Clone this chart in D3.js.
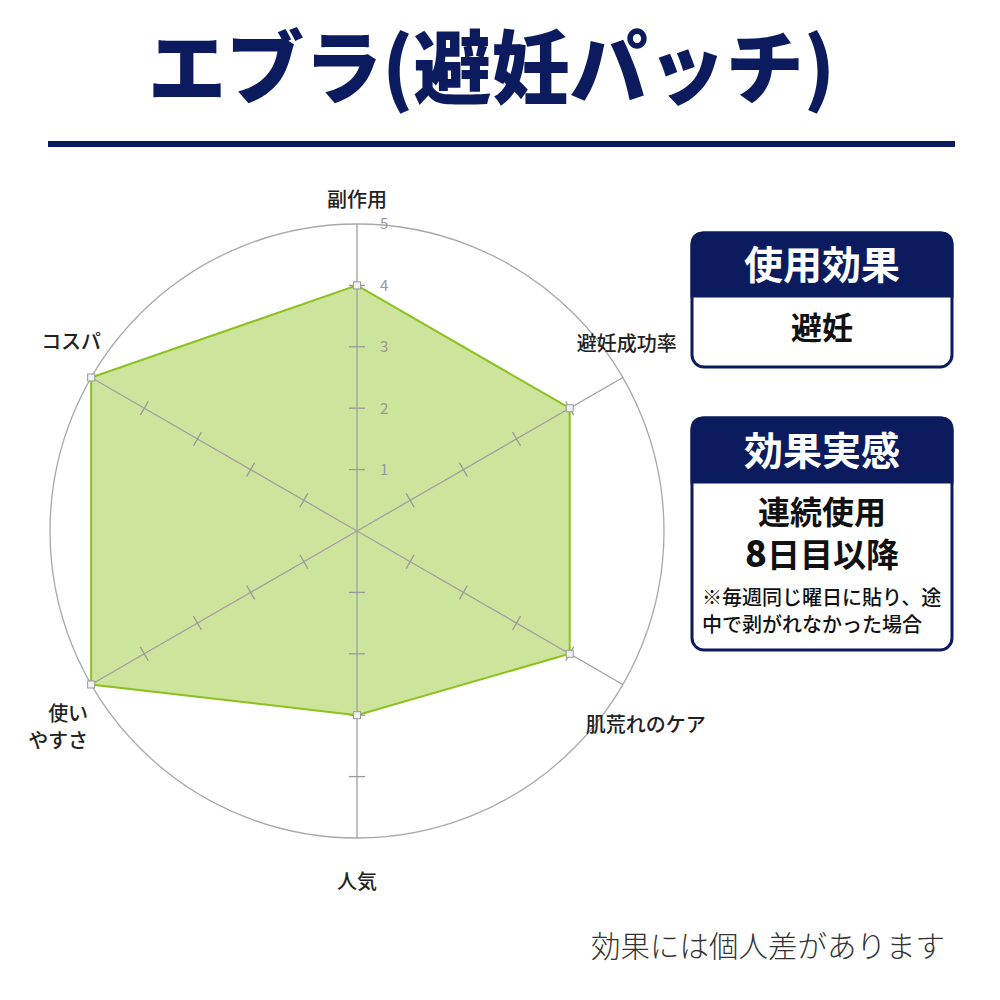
<!DOCTYPE html>
<html><head><meta charset="utf-8">
<script src="https://cdn.jsdelivr.net/npm/d3@7"></script>
<style>
html,body{margin:0;padding:0;background:#fff;}
svg{display:block;font-family:"Noto Sans CJK JP","Noto Sans",sans-serif;}
</style></head>
<body>
<svg id="c" width="1000" height="1000"></svg>
<script>
const titleText = "エブラ(避妊パッチ)";
const categories = ["副作用","避妊成功率","肌荒れのケア","人気","使いやすさ","コスパ"];
const categoryLines = [["副作用"],["避妊成功率"],["肌荒れのケア"],["人気"],["使い","やすさ"],["コスパ"]];
const values = [4,4,4,3,5,5];
const tickValues = [1,2,3,4,5];
const box1Title = "使用効果";
const box1Body = ["避妊"];
const box2Title = "効果実感";
const box2Body = ["連続使用","8日目以降"];
const box2Note = ["※毎週同じ曜日に貼り、途","中で剥がれなかった場合"];
const footnote = "効果には個人差があります";

const NAVY = "#0b1b5e";
const svg = d3.select("#c");

// Title
svg.append("text").attr("x",148).attr("y",97)
  .attr("textLength",687).attr("lengthAdjust","spacingAndGlyphs")
  .attr("font-size",80).attr("font-weight",900).attr("fill",NAVY)
  .text(titleText);
svg.append("rect").attr("x",48).attr("y",141).attr("width",907).attr("height",6).attr("fill",NAVY);

// Radar
const cx = 357, cy = 531;
const r = d3.scaleLinear().domain([0,5]).range([0,307]);
const step = 2*Math.PI/categories.length;
const ang = (i) => -Math.PI/2 + i*step;
const pt = (i, v) => [cx + r(v)*Math.cos(ang(i)), cy + r(v)*Math.sin(ang(i))];

const g = svg.append("g");
g.append("circle").attr("cx",cx).attr("cy",cy).attr("r",r(5))
  .attr("fill","none").attr("stroke","#a8a8a8").attr("stroke-width",1.3);

// polygon fill first
const line = d3.line().curve(d3.curveLinearClosed);
const polyD = line(values.map((v,i)=>pt(i,v)));
g.append("path").attr("d", polyD).attr("fill","#cde49c").attr("stroke","none");

categories.forEach((c,i)=>{
  const [x2,y2] = pt(i,5);
  g.append("line").attr("x1",cx).attr("y1",cy).attr("x2",x2).attr("y2",y2)
    .attr("stroke","#a0a0a0").attr("stroke-width",1.3);
});

// ticks on each axis
categories.forEach((c,i)=>{
  const a = ang(i), px = -Math.sin(a), py = Math.cos(a);
  tickValues.filter(t=>t<5).forEach(t=>{
    const [x,y] = pt(i,t);
    g.append("line").attr("x1",x-px*8).attr("y1",y-py*8).attr("x2",x+px*8).attr("y2",y+py*8)
      .attr("stroke","#999").attr("stroke-width",1.3);
  });
});

// polygon outline
g.append("path").attr("d", polyD).attr("fill","none").attr("stroke","#8cc21f").attr("stroke-width",2);

// tick labels on first axis
tickValues.forEach(t=>{
  const [x,y] = pt(0,t);
  g.append("text").attr("x",x+23).attr("y",y).attr("dy","0.36em")
    .attr("font-size",15).attr("fill","#999").attr("font-weight",400).text(t);
});

// markers
values.forEach((v,i)=>{
  const [x,y] = pt(i,v);
  g.append("rect").attr("x",x-3.5).attr("y",y-3.5).attr("width",7).attr("height",7)
    .attr("fill","#f2f2f2").attr("stroke","#9a9a9a").attr("stroke-width",1);
});

// category labels (layout offsets relative to the axis end)
const labelLayout = [
  {dx:0, dy:-17, anchor:"middle"},
  {dx:4, dy:-27, anchor:"middle"},
  {dx:23, dy:47, anchor:"middle"},
  {dx:0, dy:51, anchor:"middle"},
  {dx:-3, dy:36, anchor:"end"},
  {dx:-20, dy:-29, anchor:"middle"}
];
categoryLines.forEach((lines,i)=>{
  const [x,y] = pt(i,5);
  const L = labelLayout[i];
  const t = g.append("text").attr("x",x+L.dx).attr("y",y+L.dy)
    .attr("text-anchor",L.anchor).attr("font-size",20).attr("font-weight",500).attr("fill","#222");
  lines.forEach((s,k)=>{
    t.append("tspan").attr("x",x+L.dx).attr("dy",k?27:0).text(s);
  });
});

// Boxes
function box(x,y,w,h,hh,title,titleBase){
  const rr = 12;
  svg.append("rect").attr("x",x).attr("y",y).attr("width",w).attr("height",h).attr("rx",rr)
    .attr("fill","#fff").attr("stroke",NAVY).attr("stroke-width",3);
  const p = `M${x},${y+hh} V${y+rr} Q${x},${y} ${x+rr},${y} H${x+w-rr} Q${x+w},${y} ${x+w},${y+rr} V${y+hh} Z`;
  svg.append("path").attr("d",p).attr("fill",NAVY).attr("stroke",NAVY).attr("stroke-width",3);
  svg.append("text").attr("x",x+w/2).attr("y",titleBase).attr("text-anchor","middle")
    .attr("font-size",39).attr("font-weight",700).attr("fill","#fff").text(title);
}
box(692,233,260,134,63,box1Title,279);
svg.append("text").attr("x",822).attr("y",339).attr("text-anchor","middle")
  .attr("font-size",31).attr("font-weight",700).attr("fill","#111").text(box1Body[0]);

box(692,418,260,232,64,box2Title,465);
svg.append("text").attr("x",822).attr("y",524).attr("text-anchor","middle")
  .attr("font-size",32).attr("font-weight",700).attr("fill","#111").text(box2Body[0]);
const t8 = svg.append("text").attr("x",822).attr("y",567).attr("text-anchor","middle")
  .attr("font-size",33).attr("font-weight",700).attr("fill","#111");
t8.append("tspan").attr("font-weight",900).attr("font-size",36).text(box2Body[1].slice(0,1));
t8.append("tspan").text(box2Body[1].slice(1));
box2Note.forEach((s,k)=>{
  svg.append("text").attr("x",702).attr("y",605+k*27)
    .attr("font-size",20).attr("font-weight",500).attr("fill","#111").text(s);
});

// Footnote
svg.append("text").attr("x",945).attr("y",957).attr("text-anchor","end")
  .attr("font-size",29.5).attr("font-weight",300).attr("fill","#333").text(footnote);
</script>
</body></html>
